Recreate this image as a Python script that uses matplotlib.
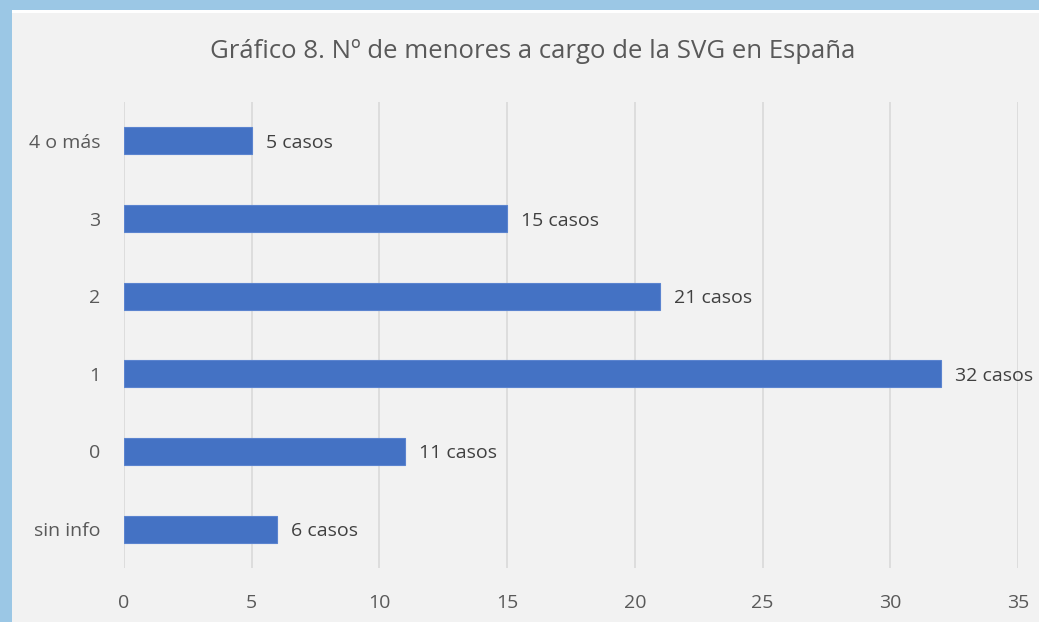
import matplotlib
matplotlib.use("Agg")
import matplotlib.pyplot as plt
from matplotlib.patches import Rectangle

categorias = ["sin info", "0", "1", "2", "3", "4 o más"]
casos = [6, 11, 32, 21, 15, 5]
etiquetas = ["6 casos", "11 casos", "32 casos", "21 casos", "15 casos", "5 casos"]
xticks = [0, 5, 10, 15, 20, 25, 30, 35]

plt.rcParams['font.family'] = ['Open Sans', 'DejaVu Sans']

fig = plt.figure(figsize=(10.39, 6.22), dpi=100)
fig.patch.set_facecolor('#9bc7e5')

# chart area (screenshot crop: blue border left and top)
fig.patches.append(Rectangle((12/1039, 0), 1, 612/622, transform=fig.transFigure,
                             facecolor='white', edgecolor='none', zorder=-2))
fig.patches.append(Rectangle((12/1039, 0), 1, 609/622, transform=fig.transFigure,
                             facecolor='#f2f2f2', edgecolor='none', zorder=-1))

ax = fig.add_axes([124/1039, 1 - 568/622, (1018 - 124)/1039, (568 - 102)/622])
ax.set_facecolor('none')

y = range(len(categorias))
ax.barh(y, casos, height=0.35, color='#4472c4', edgecolor='#5b84cf', linewidth=0.8, zorder=3)
for yi, v, t in zip(y, casos, etiquetas):
    ax.text(v + 0.55, yi, t, va='center_baseline', ha='left', fontsize=14, color='#404040')

ax.set_xlim(0, 35)
ax.set_ylim(-0.5, 5.5)
ax.set_xticks(xticks)
ax.set_yticks(list(y))
ax.set_yticklabels(categorias)
ax.grid(axis='x', color='#d9d9d9', linewidth=1.2, zorder=0)
ax.tick_params(length=0, labelsize=14, labelcolor='#595959')
ax.tick_params(axis='x', pad=19)
ax.tick_params(axis='y', pad=17)
for s in ax.spines.values():
    s.set_visible(False)

fig.text(533/1039, 1 - 52/622, "Gráfico 8. Nº de menores a cargo de la SVG en España",
         ha='center', va='center', fontsize=18.5, color='#595959')

fig.savefig("out.png", dpi=100, facecolor=fig.get_facecolor())
